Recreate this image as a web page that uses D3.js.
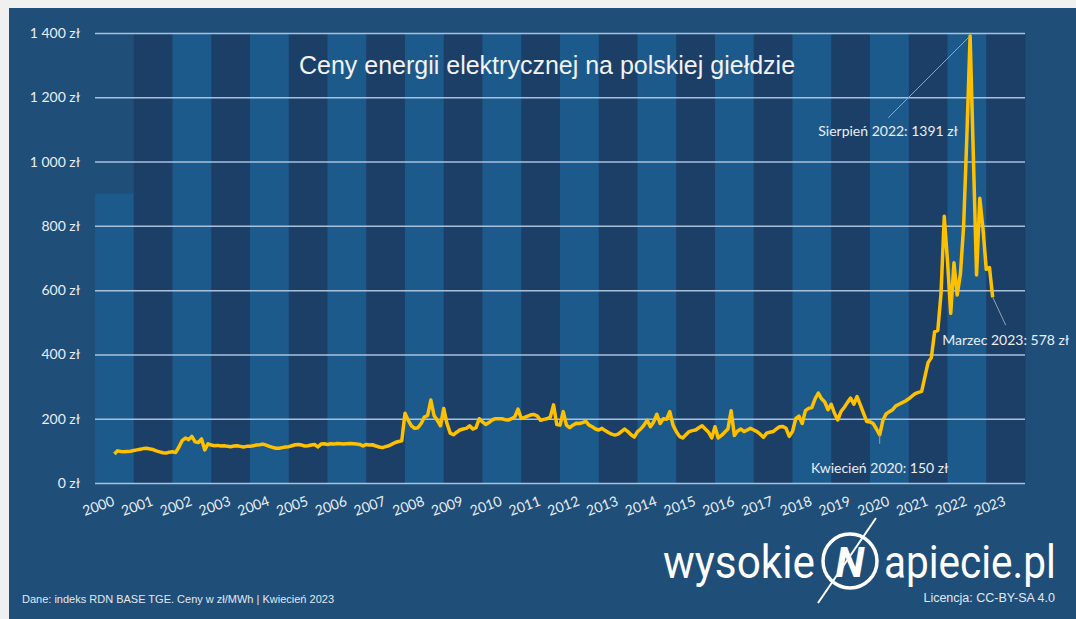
<!DOCTYPE html>
<html>
<head>
<meta charset="utf-8">
<script src="https://cdn.jsdelivr.net/npm/d3@7"></script>
<style>
  html, body { margin: 0; padding: 0; background: #f0f0f0; }
  svg { display: block; }
  .axis path.domain { display: none; }
  .axis--y line { stroke: #a9c2dc; stroke-width: 1.5; }
  .axis text { fill: #e9eef5; font-family: Lato, "Open Sans", sans-serif; font-size: 14px; }
</style>
</head>
<body>
<div id="chart"></div>
<script>
// --- Data ---
const years = d3.range(2000, 2024);
// background columns (one per year); the first one is shorter in the original
const bandTops = [900].concat(d3.range(23).map(() => 1400));
const yTicks = [0, 200, 400, 600, 800, 1000, 1200, 1400];

// monthly RDN BASE prices, zł/MWh, starting July 2000
const startYear = 2000, startMonth = 7;
const prices = [
  // 2000
  90, 100, 98, 97, 98, 99,
  // 2001
  101, 103, 105, 107, 108, 106, 104, 100, 97, 94, 93, 96,
  // 2002
  97, 95, 112, 132, 140, 135, 145, 128, 126, 137, 103, 122,
  // 2003
  118, 116, 117, 115, 116, 114, 113, 115, 116, 114, 112, 114,
  // 2004
  114, 116, 118, 119, 121, 118, 114, 111, 108, 108, 110, 112,
  // 2005
  113, 116, 119, 120, 118, 115, 116, 118, 120, 112, 121, 122,
  // 2006
  120, 122, 121, 123, 122, 121, 122, 123, 122, 121, 120, 115,
  // 2007
  120, 118, 119, 115, 112, 110, 113, 116, 121, 126, 129, 131,
  // 2008
  217, 195, 178, 170, 172, 185, 205, 210, 258, 210, 195, 178,
  // 2009
  232, 185, 155, 150, 158, 165, 168, 170, 178, 168, 172, 200,
  // 2010
  190, 182, 188, 196, 200, 200, 200, 197, 196, 200, 206, 230,
  // 2011
  201, 204, 208, 212, 213, 208, 195, 198, 200, 205, 243, 182,
  // 2012
  180, 222, 180, 172, 180, 186, 185, 188, 192, 180, 175, 168,
  // 2013
  165, 170, 163, 157, 152, 149, 152, 160, 168, 160, 150, 143,
  // 2014
  160, 168, 180, 195, 175, 190, 214, 185, 200, 198, 222, 180,
  // 2015
  160, 145, 140, 150, 160, 163, 165, 172, 178, 168, 158, 140,
  // 2016
  175, 140, 148, 158, 168, 225, 148, 162, 168, 160, 165, 170,
  // 2017
  165, 160, 152, 142, 155, 158, 160, 168, 175, 176, 170, 145,
  // 2018
  160, 200, 208, 185, 225, 232, 235, 262, 280, 262, 252, 228,
  // 2019
  245, 217, 196, 222, 235, 250, 264, 245, 269, 243, 217, 191,
  // 2020
  190, 185, 168, 150, 195, 215, 222, 228, 240, 245, 250, 255,
  // 2021
  262, 270, 278, 282, 285, 330, 375, 390, 470, 475, 590, 830,
  // 2022
  690, 528, 685, 585, 650, 800, 1080, 1391, 1020, 647, 886, 790,
  // 2023
  665, 670, 578
];

const annotations = [
  { label: 'Sierpień 2022: 1391 zł', year: 2022, month: 8 },
  { label: 'Marzec 2023: 578 zł', year: 2023, month: 3 },
  { label: 'Kwiecień 2020: 150 zł', year: 2020, month: 4 }
];

const title = 'Ceny energii elektrycznej na polskiej giełdzie';
const sourceNote = 'Dane: indeks RDN BASE TGE. Ceny w zł/MWh  | Kwiecień 2023';
const licenseNote = 'Licencja: CC-BY-SA 4.0';

// --- Sizing ---
const W = 1076, H = 619;
const plot = { left: 95, right: 1025, top: 33, bottom: 483 };

const svg = d3.select('#chart').append('svg')
  .attr('width', W).attr('height', H);

svg.append('rect')
  .attr('x', 9).attr('y', 8)
  .attr('width', W - 9).attr('height', H - 8)
  .attr('fill', '#1f4e79');

// --- Scales ---
const xBand = d3.scaleBand().domain(years).range([plot.left, plot.right]);
const x = d3.scaleLinear().domain([2000, 2024]).range([plot.left, plot.right]);
const y = d3.scaleLinear().domain([0, 1400]).range([plot.bottom, plot.top]);

const points = prices.map((v, i) => {
  const m = startMonth - 1 + i;
  return { t: startYear + Math.floor(m / 12) + (m % 12) / 12, v: v };
});

// year columns
svg.append('g').selectAll('rect')
  .data(years).enter().append('rect')
  .attr('x', d => xBand(d))
  .attr('width', xBand.bandwidth() + 0.5)
  .attr('y', (d, i) => y(bandTops[i]))
  .attr('height', (d, i) => y(0) - y(bandTops[i]))
  .attr('fill', (d, i) => i % 2 === 0 ? '#1d5a8c' : '#1c3f68');

// y axis + grid
const fmt = d3.formatLocale({ decimal: ',', thousands: '\u00a0', grouping: [3], currency: ['', ''] }).format(',');
svg.append('g')
  .attr('class', 'axis axis--y')
  .attr('transform', `translate(${plot.left},0)`)
  .call(d3.axisLeft(y).tickValues(yTicks).tickSize(-(plot.right - plot.left)).tickPadding(15)
    .tickFormat(d => fmt(d) + ' zł'));

// x axis
const xAxis = svg.append('g')
  .attr('class', 'axis axis--x')
  .attr('transform', `translate(0,${plot.bottom})`)
  .call(d3.axisBottom(xBand).tickSize(0));
xAxis.selectAll('text')
  .attr('x', 0).attr('y', 0).attr('dy', 0)
  .attr('text-anchor', 'end')
  .attr('transform', 'translate(1,22) rotate(-20)');

// title
svg.append('text')
  .attr('x', 547).attr('y', 74)
  .attr('text-anchor', 'middle')
  .attr('fill', '#f2f2f2')
  .style('font-family', '"Liberation Sans", Arial, sans-serif')
  .style('font-size', '25px')
  .text(title);

// price line
svg.append('path')
  .datum(points)
  .attr('fill', 'none')
  .attr('stroke', '#ffc000')
  .attr('stroke-width', 3.5)
  .attr('stroke-linejoin', 'round')
  .attr('d', d3.line().x(d => x(d.t)).y(d => y(d.v)));

// annotations
const leader = [
  { dx: -82, dy: 82, tdy: 18 },
  { dx: 13, dy: 28, tdy: 20 },
  { dx: 0, dy: 9, tdy: 29 }
];
annotations.forEach((a, i) => {
  const p = points.find(d => Math.abs(d.t - (a.year + (a.month - 1) / 12)) < 1e-6);
  const px = x(p.t), py = y(p.v);
  const l = leader[i];
  svg.append('line')
    .attr('x1', px).attr('y1', py)
    .attr('x2', px + l.dx).attr('y2', py + l.dy)
    .attr('stroke', '#95a3b4').attr('stroke-width', 1);
  svg.append('text')
    .attr('x', px + l.dx).attr('y', py + l.dy + l.tdy)
    .attr('text-anchor', 'middle')
    .attr('fill', '#e9eef5')
    .style('font-family', 'Lato, "Open Sans", sans-serif')
    .style('font-size', '14px')
    .text(a.label);
});

// logo
const logo = svg.append('g').attr('fill', '#ffffff')
  .style('font-family', 'Roboto, "Open Sans", sans-serif')
  .style('font-size', '46px');
logo.append('text')
  .attr('transform', 'translate(663,578) scale(0.92,1)')
  .text('wysokie');
logo.append('circle')
  .attr('cx', 850).attr('cy', 561).attr('r', 27)
  .attr('fill', 'none').attr('stroke', '#ffffff').attr('stroke-width', 3.5);
logo.append('text')
  .attr('x', 850).attr('y', 577)
  .attr('text-anchor', 'middle')
  .style('font-size', '42px').style('font-weight', 700).style('font-style', 'italic')
  .text('N');
logo.append('line')
  .attr('x1', 876).attr('y1', 518).attr('x2', 818).attr('y2', 603)
  .attr('stroke', '#ffffff').attr('stroke-width', 2);
logo.append('text')
  .attr('transform', 'translate(884,578) scale(0.88,1)')
  .text('apiecie.pl');

// footer
svg.append('text')
  .attr('x', 22).attr('y', 603)
  .attr('fill', '#e2e8f0')
  .style('font-family', '"Liberation Sans", Arial, sans-serif')
  .style('font-size', '11px')
  .text(sourceNote);
svg.append('text')
  .attr('x', 1055).attr('y', 602)
  .attr('text-anchor', 'end')
  .attr('fill', '#e2e8f0')
  .style('font-family', '"Liberation Sans", Arial, sans-serif')
  .style('font-size', '12.5px')
  .text(licenseNote);
</script>
</body>
</html>
